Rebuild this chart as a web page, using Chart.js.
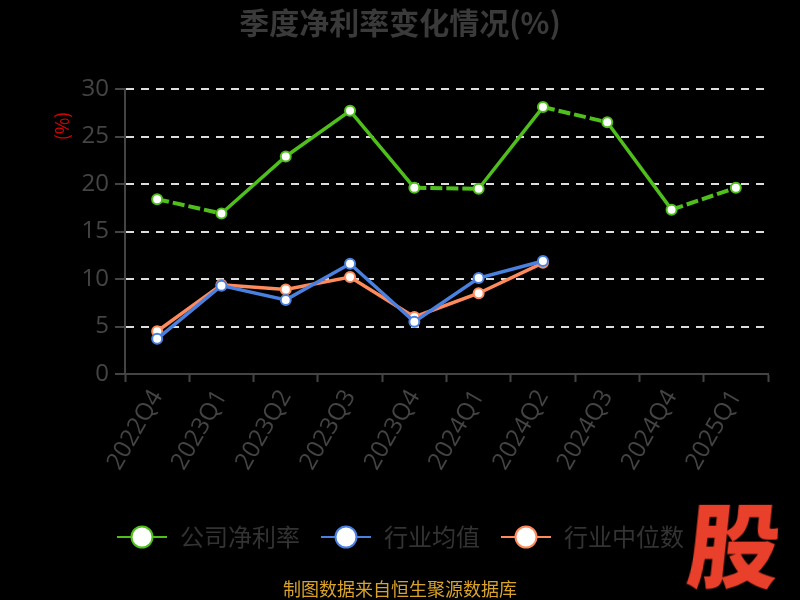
<!DOCTYPE html>
<html>
<head>
<meta charset="utf-8">
<script src="https://cdn.jsdelivr.net/npm/chart.js@4/dist/chart.umd.min.js"></script>
<style>
  html, body { margin: 0; padding: 0; background: #000; }
  #wrap { position: relative; width: 800px; height: 600px; }
  #footer { position: absolute; left: 0; width: 800px; top: 577px; text-align: center;
    font: 18px "Noto Sans CJK SC", sans-serif; color: #d9a32a; line-height: 22px; }
  #logo { position: absolute; left: 689px; top: 490px; font: 900 92px "Noto Sans CJK SC", sans-serif;
    color: #e8402a; line-height: 100px; transform: skewX(-6deg); }
</style>
</head>
<body>
<div id="wrap">
  <canvas id="c" width="800" height="600"></canvas>
  <div id="footer">制图数据来自恒生聚源数据库</div>
  <div id="logo">股</div>
</div>
<script>
// 数据
const quarters = ['2022Q4', '2023Q1', '2023Q2', '2023Q3', '2023Q4', '2024Q1', '2024Q2', '2024Q3', '2024Q4', '2025Q1'];
const companyMargin = [18.4, 16.9, 22.9, 27.7, 19.6, 19.5, 28.1, 26.5, 17.3, 19.6];
const industryAvg = [3.7, 9.3, 7.8, 11.6, 5.5, 10.1, 11.9, null, null, null];
const industryMedian = [4.5, 9.4, 8.9, 10.2, 6.0, 8.5, 11.7, null, null, null];
const yTicks = [0, 5, 10, 15, 20, 25, 30];

const GREEN = '#4fbf1c', BLUE = '#4a80e0', ORANGE = '#ff8a5b';
const dashedSegs = [0, 4, 6, 8]; // 绿线中虚线的线段

// 图例图标: 线 + 圆
function legendIcon(color) {
    const cv = document.createElement('canvas');
    cv.width = 52; cv.height = 26;
    const g = cv.getContext('2d');
    g.strokeStyle = color; g.lineWidth = 2;
    g.beginPath(); g.moveTo(1, 13); g.lineTo(51, 13); g.stroke();
    g.beginPath(); g.arc(26, 13, 10.5, 0, Math.PI * 2);
    g.fillStyle = '#fff'; g.fill(); g.lineWidth = 2; g.stroke();
    return cv;
}

function lineSet(label, data, color) {
    return {
        label: label, data: data,
        borderColor: color, backgroundColor: '#fff',
        borderWidth: 3.5, pointRadius: 5, pointBorderWidth: 2,
        pointBackgroundColor: '#fff', pointBorderColor: color,
        tension: 0, spanGaps: false
    };
}

const green = lineSet('公司净利率', companyMargin, GREEN);
green.segment = {
    borderDash: ctx => dashedSegs.includes(ctx.p0DataIndex) ? [12, 4] : undefined,
    borderWidth: ctx => dashedSegs.includes(ctx.p0DataIndex) ? 4 : 3.5
};

// y 轴标题 "(%)"
const yTitlePlugin = {
    id: 'yTitle',
    afterDraw(chart) {
        const c = chart.ctx;
        c.save();
        c.translate(62, 126);
        c.rotate(-Math.PI / 2);
        c.font = '18px "Noto Sans CJK SC", sans-serif';
        c.fillStyle = '#e00000';
        c.textAlign = 'center'; c.textBaseline = 'middle';
        c.fillText('(%)', 0, 0);
        c.restore();
    }
};

new Chart(document.getElementById('c'), {
    type: 'line',
    data: {
        labels: quarters,
        datasets: [green, lineSet('行业均值', industryAvg, BLUE), lineSet('行业中位数', industryMedian, ORANGE)]
    },
    plugins: [yTitlePlugin],
    options: {
        responsive: false,
        animation: false,
        layout: { padding: { left: 0, right: 0, top: 0, bottom: 41 } },
        plugins: {
            title: {
                display: true, text: '季度净利率变化情况(%)', color: '#3a3a3a',
                font: { size: 30, weight: 'bold', family: '"Noto Sans CJK SC", sans-serif' },
                padding: { top: 5, bottom: 48 }
            },
            legend: {
                position: 'bottom',
                labels: {
                    usePointStyle: true, pointStyleWidth: 52,
                    color: '#333', padding: 20,
                    font: { size: 24, family: '"Noto Sans CJK SC", sans-serif' },
                    generateLabels(chart) {
                        return chart.data.datasets.map((ds, i) => ({
                            text: ds.label, pointStyle: legendIcon(ds.borderColor),
                            fontColor: '#333', lineWidth: 0, datasetIndex: i, hidden: false
                        }));
                    }
                }
            },
            tooltip: { enabled: false }
        },
        scales: {
            x: {
                offset: true,
                afterFit(s) { s.height = 131; },
                grid: { display: true, drawOnChartArea: false, offset: true, tickLength: 8, tickColor: '#444', tickWidth: 2 },
                border: { color: '#444', width: 2 },
                ticks: {
                    autoSkip: false, maxRotation: 60, minRotation: 60, color: '#444',
                    font: { size: 24, family: '"Open Sans", sans-serif' }
                }
            },
            y: {
                min: 0, max: 30,
                afterFit(s) { s.width = 125; },
                afterBuildTicks(s) { s.ticks = yTicks.map(v => ({ value: v })); },
                grid: { color: '#ddd', lineWidth: 2, tickLength: 10, tickColor: '#444', tickWidth: 2 },
                border: { color: '#444', width: 2, dash: [8, 7] },
                ticks: { color: '#444', padding: 6, font: { size: 24, family: '"Open Sans", sans-serif' } }
            },
            // 右侧留白
            yRight: {
                position: 'right', min: 0, max: 30,
                afterFit(s) { s.width = 32; },
                grid: { display: false },
                border: { display: false },
                ticks: { display: false }
            }
        }
    }
});
</script>
</body>
</html>
